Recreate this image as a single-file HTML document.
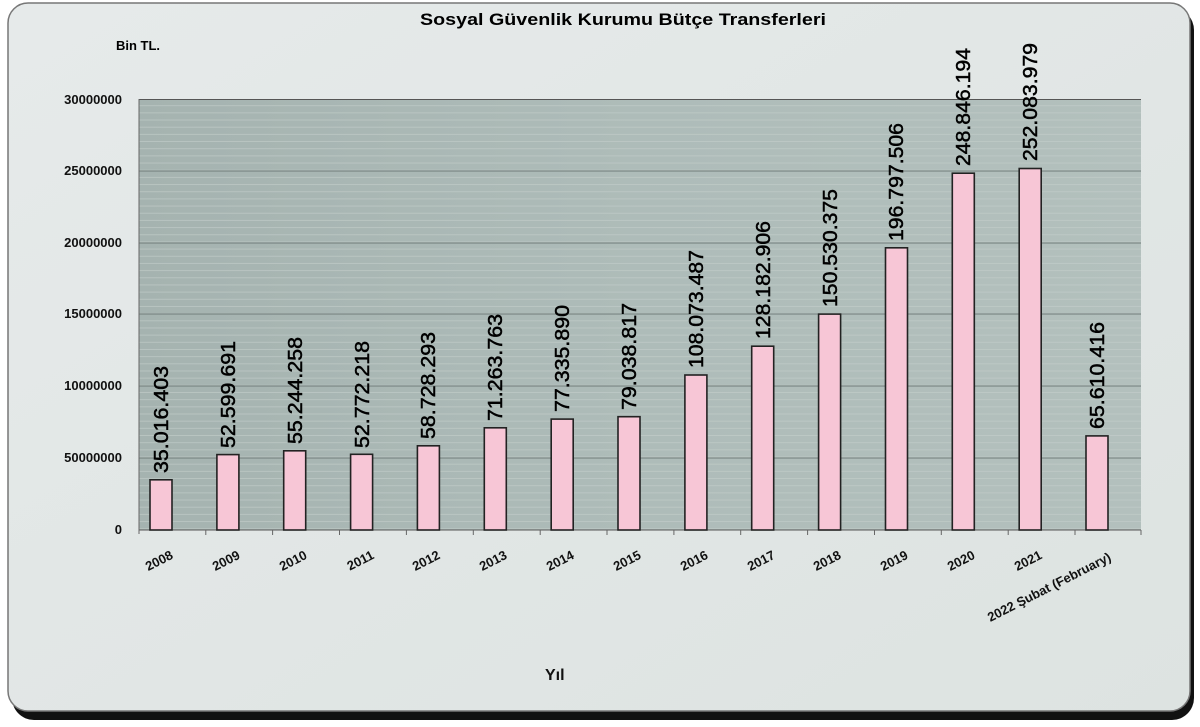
<!DOCTYPE html>
<html><head><meta charset="utf-8"><style>
html,body{margin:0;padding:0;background:#fff;}
svg{display:block;font-family:"Liberation Sans",sans-serif;}
</style></head><body>
<svg width="1200" height="727" viewBox="0 0 1200 727" xmlns="http://www.w3.org/2000/svg">
<defs>
<linearGradient id="bg" x1="0" y1="0" x2="1" y2="1">
<stop offset="0" stop-color="#e6eaea"/><stop offset="1" stop-color="#dde3e1"/>
</linearGradient>
<linearGradient id="pa" x1="0" y1="0" x2="1" y2="0">
<stop offset="0" stop-color="#a5b3b0"/><stop offset="0.5" stop-color="#aebcb9"/><stop offset="1" stop-color="#b3c0bd"/>
</linearGradient>
<pattern id="minor" x="139" y="99" width="10" height="7.17" patternUnits="userSpaceOnUse">
<rect x="0" y="6.2" width="10" height="1" fill="#c4cecc" opacity="0.6"/>
</pattern>
</defs>
<rect x="0" y="0" width="1200" height="727" fill="#ffffff"/>
<rect x="12" y="8" width="1182" height="712" rx="22" fill="#111"/>
<rect x="8" y="3" width="1182" height="708" rx="20" fill="url(#bg)" stroke="#777" stroke-width="1.5"/>
<text x="623" y="25" font-size="17" font-weight="bold" text-anchor="middle" textLength="406" lengthAdjust="spacingAndGlyphs">Sosyal Güvenlik Kurumu Bütçe Transferleri</text>
<text x="116" y="50" font-size="13" font-weight="bold">Bin TL.</text>
<rect x="139" y="99" width="1002" height="431" fill="url(#pa)"/>
<rect x="139" y="99" width="1002" height="431" fill="url(#minor)"/>
<g stroke="#6f7b79" stroke-width="1">
<line x1="139" y1="99.5" x2="1141" y2="99.5" stroke="#555"/>
<line x1="139" y1="171" x2="1141" y2="171"/>
<line x1="139" y1="243" x2="1141" y2="243"/>
<line x1="139" y1="314" x2="1141" y2="314"/>
<line x1="139" y1="386" x2="1141" y2="386"/>
<line x1="139" y1="458" x2="1141" y2="458"/>
<line x1="139" y1="530" x2="1141" y2="530" stroke="#555"/>
<line x1="139" y1="99" x2="139" y2="534" stroke="#666"/>
</g>
<g stroke="#666">
<line x1="205.8" y1="530" x2="205.8" y2="535"/><line x1="272.6" y1="530" x2="272.6" y2="535"/><line x1="339.5" y1="530" x2="339.5" y2="535"/><line x1="406.4" y1="530" x2="406.4" y2="535"/><line x1="473.3" y1="530" x2="473.3" y2="535"/><line x1="540.2" y1="530" x2="540.2" y2="535"/><line x1="607" y1="530" x2="607" y2="535"/><line x1="673.9" y1="530" x2="673.9" y2="535"/><line x1="740.7" y1="530" x2="740.7" y2="535"/><line x1="807.6" y1="530" x2="807.6" y2="535"/><line x1="874.5" y1="530" x2="874.5" y2="535"/><line x1="941.3" y1="530" x2="941.3" y2="535"/><line x1="1008.2" y1="530" x2="1008.2" y2="535"/><line x1="1075" y1="530" x2="1075" y2="535"/><line x1="1141" y1="530" x2="1141" y2="535"/>
</g>
<g font-size="13" font-weight="bold" text-anchor="end" fill="#111">
<text x="122" y="104">30000000</text>
<text x="122" y="175">25000000</text>
<text x="122" y="247">20000000</text>
<text x="122" y="318">15000000</text>
<text x="122" y="390">10000000</text>
<text x="122" y="462">50000000</text>
<text x="122" y="534">0</text>
</g>
<g fill="#f7c6d6" stroke="#222" stroke-width="1.6">
<rect x="150" y="479.8" width="22" height="50.2"/>
<rect x="216.9" y="454.6" width="22" height="75.4"/>
<rect x="283.7" y="450.8" width="22" height="79.2"/>
<rect x="350.6" y="454.3" width="22" height="75.7"/>
<rect x="417.4" y="445.8" width="22" height="84.2"/>
<rect x="484.3" y="427.8" width="22" height="102.2"/>
<rect x="551.2" y="419.1" width="22" height="110.9"/>
<rect x="618" y="416.7" width="22" height="113.3"/>
<rect x="684.9" y="375" width="22" height="155"/>
<rect x="751.7" y="346.2" width="22" height="183.8"/>
<rect x="818.6" y="314.1" width="22" height="215.9"/>
<rect x="885.5" y="247.8" width="22" height="282.2"/>
<rect x="952.3" y="173.2" width="22" height="356.8"/>
<rect x="1019.2" y="168.5" width="22" height="361.5"/>
<rect x="1086" y="435.9" width="22" height="94.1"/>
</g>
<g font-size="20" fill="#000" stroke="#000" stroke-width="0.5">
<text transform="translate(168,473) rotate(-90)" textLength="107" lengthAdjust="spacingAndGlyphs">35.016.403</text>
<text transform="translate(235,448) rotate(-90)" textLength="107" lengthAdjust="spacingAndGlyphs">52.599.691</text>
<text transform="translate(302,444) rotate(-90)" textLength="107" lengthAdjust="spacingAndGlyphs">55.244.258</text>
<text transform="translate(369,448) rotate(-90)" textLength="107" lengthAdjust="spacingAndGlyphs">52.772.218</text>
<text transform="translate(435,439) rotate(-90)" textLength="107" lengthAdjust="spacingAndGlyphs">58.728.293</text>
<text transform="translate(502,421) rotate(-90)" textLength="107" lengthAdjust="spacingAndGlyphs">71.263.763</text>
<text transform="translate(569,412) rotate(-90)" textLength="107" lengthAdjust="spacingAndGlyphs">77.335.890</text>
<text transform="translate(636,410) rotate(-90)" textLength="107" lengthAdjust="spacingAndGlyphs">79.038.817</text>
<text transform="translate(703,368) rotate(-90)" textLength="118" lengthAdjust="spacingAndGlyphs">108.073.487</text>
<text transform="translate(770,339) rotate(-90)" textLength="118" lengthAdjust="spacingAndGlyphs">128.182.906</text>
<text transform="translate(837,307) rotate(-90)" textLength="118" lengthAdjust="spacingAndGlyphs">150.530.375</text>
<text transform="translate(903,241) rotate(-90)" textLength="118" lengthAdjust="spacingAndGlyphs">196.797.506</text>
<text transform="translate(970,166) rotate(-90)" textLength="118" lengthAdjust="spacingAndGlyphs">248.846.194</text>
<text transform="translate(1037,161) rotate(-90)" textLength="118" lengthAdjust="spacingAndGlyphs">252.083.979</text>
<text transform="translate(1104,429) rotate(-90)" textLength="107" lengthAdjust="spacingAndGlyphs">65.610.416</text>
</g>
<g font-size="13" font-weight="bold" text-anchor="end" fill="#111">
<text transform="translate(174,558) rotate(-27)">2008</text>
<text transform="translate(241,558) rotate(-27)">2009</text>
<text transform="translate(308,558) rotate(-27)">2010</text>
<text transform="translate(375,558) rotate(-27)">2011</text>
<text transform="translate(441,558) rotate(-27)">2012</text>
<text transform="translate(508,558) rotate(-27)">2013</text>
<text transform="translate(575,558) rotate(-27)">2014</text>
<text transform="translate(642,558) rotate(-27)">2015</text>
<text transform="translate(709,558) rotate(-27)">2016</text>
<text transform="translate(776,558) rotate(-27)">2017</text>
<text transform="translate(842,558) rotate(-27)">2018</text>
<text transform="translate(909,558) rotate(-27)">2019</text>
<text transform="translate(976,558) rotate(-27)">2020</text>
<text transform="translate(1043,558) rotate(-27)">2021</text>
<text transform="translate(1112,560) rotate(-27)">2022 Şubat (February)</text>
</g>
<text x="545" y="680" font-size="16" font-weight="bold" fill="#111">Yıl</text>
</svg>
</body></html>
